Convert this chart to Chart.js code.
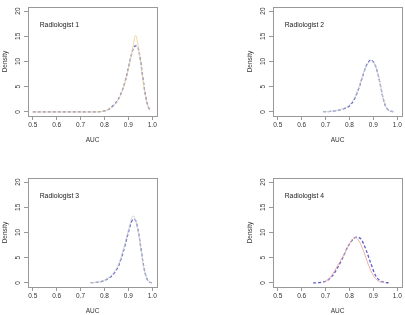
<!DOCTYPE html>
<html>
<head>
<meta charset="utf-8">
<script src="https://cdn.jsdelivr.net/npm/chart.js@4.4.1/dist/chart.umd.min.js"></script>
<style>
  html, body { margin: 0; padding: 0; background: #fff; overflow: hidden; }
  #wrap { position: relative; width: 405px; height: 315px; overflow: hidden; }
  .panel { position: absolute; width: 160px; height: 157px; }
</style>
</head>
<body>
<div id="wrap">
  <div class="panel" style="left:0;top:0"><canvas id="r1"></canvas></div>
  <div class="panel" style="left:245px;top:0"><canvas id="r2"></canvas></div>
  <div class="panel" style="left:0;top:171px"><canvas id="r3"></canvas></div>
  <div class="panel" style="left:245px;top:171px"><canvas id="r4"></canvas></div>
</div>
<script>
// etichette e assi
const panelTitles = ["Radiologist 1", "Radiologist 2", "Radiologist 3", "Radiologist 4"];
const xTicks = [0.5, 0.6, 0.7, 0.8, 0.9, 1.0];
const yTicks = [0, 5, 10, 15, 20];
const xTitle = "AUC";
const yTitle = "Density";

// Radiologist 1
const auc1 = [0.50, 0.55, 0.60, 0.65, 0.70, 0.75, 0.78, 0.80, 0.82, 0.84, 0.86, 0.88, 0.90, 0.91, 0.92, 0.93, 0.94, 0.95, 0.96, 0.97, 0.98, 0.99];
const solid1 = [0, 0, 0, 0, 0, 0, 0.05, 0.2, 0.6, 1.3, 2.6, 4.9, 8.4, 10.6, 13.0, 15.2, 13.4, 10.3, 6.8, 3.6, 1.4, 0.3];
const dashed1 = [0, 0, 0, 0, 0, 0, 0.05, 0.2, 0.6, 1.4, 2.7, 5.0, 8.6, 10.8, 12.5, 13.1, 12.8, 10.5, 7.0, 3.8, 1.5, 0.3];

// Radiologist 2
const auc2 = [0.69, 0.72, 0.75, 0.78, 0.80, 0.82, 0.84, 0.86, 0.87, 0.88, 0.89, 0.90, 0.91, 0.92, 0.93, 0.94, 0.95, 0.96, 0.97, 0.985];
const solid2 = [0.05, 0.1, 0.35, 0.8, 1.4, 2.7, 5.0, 7.9, 9.0, 9.8, 10.2, 9.9, 9.1, 7.5, 5.3, 3.0, 1.4, 0.5, 0.2, 0.05];
const dashed2 = [0.05, 0.1, 0.3, 0.7, 1.2, 2.5, 4.8, 7.8, 9.1, 9.9, 10.3, 9.9, 9.0, 7.4, 5.2, 2.9, 1.3, 0.5, 0.2, 0.05];

// Radiologist 3
const auc3 = [0.742, 0.76, 0.78, 0.80, 0.82, 0.84, 0.86, 0.88, 0.90, 0.91, 0.92, 0.93, 0.94, 0.95, 0.96, 0.97, 0.98, 0.99, 0.998];
const solid3 = [0.05, 0.1, 0.25, 0.55, 1.1, 2.1, 3.8, 6.8, 10.4, 12.2, 13.3, 12.5, 10.4, 7.5, 4.3, 1.9, 0.6, 0.15, 0.02];
const dashed3 = [0.05, 0.1, 0.2, 0.5, 1.0, 1.9, 3.5, 6.4, 10.0, 11.7, 12.6, 12.4, 10.6, 7.8, 4.5, 2.0, 0.6, 0.15, 0.02];

// Radiologist 4 (le due curve hanno supporti diversi)
const aucSolid4 = [0.69, 0.71, 0.73, 0.75, 0.77, 0.79, 0.81, 0.825, 0.84, 0.86, 0.88, 0.90, 0.92, 0.94];
const solid4 = [0.1, 0.6, 1.8, 3.4, 5.0, 6.8, 8.5, 9.0, 8.3, 6.2, 3.5, 1.5, 0.4, 0.1];
const aucDashed4 = [0.648, 0.67, 0.69, 0.71, 0.73, 0.75, 0.77, 0.79, 0.81, 0.83, 0.84, 0.85, 0.87, 0.89, 0.91, 0.93, 0.95, 0.964];
const dashed4 = [0.02, 0.05, 0.2, 0.6, 1.5, 3.0, 4.8, 6.9, 8.4, 9.1, 9.0, 8.6, 6.5, 3.8, 1.4, 0.4, 0.1, 0.02];

const solidColors = ["#e6d49c", "#cdd2ca", "#cdd2ca", "#eaa9a0"];
const dashColor = "#5e5ed4";
const FONT = "'Liberation Sans', Arial, sans-serif";

const toPoints = (xs, ys) => xs.map((x, i) => ({ x: x, y: ys[i] }));

// riquadro stile R + etichetta del pannello
const boxPlugin = {
  id: "rbox",
  afterDraw(chart) {
    const { ctx, chartArea: a, scales } = chart;
    ctx.save();
    ctx.strokeStyle = "#999";
    ctx.lineWidth = 1;
    ctx.strokeRect(Math.round(a.left) + 0.5, Math.round(a.top) + 0.5,
      Math.round(a.right - a.left), Math.round(a.bottom - a.top));
    ctx.fillStyle = "#222";
    ctx.font = "6.8px " + FONT;
    ctx.textBaseline = "middle";
    ctx.fillText(chart.options.plugins.rbox.label,
      scales.x.getPixelForValue(0.529), scales.y.getPixelForValue(17.2));
    ctx.restore();
  }
};

function makePanel(id, label, solidX, solidY, dashX, dashY, solidColor) {
  new Chart(document.getElementById(id), {
    type: "line",
    data: {
      datasets: [
        {
          data: toPoints(solidX, solidY),
          borderColor: solidColor,
          borderWidth: 0.9,
          pointRadius: 0,
          cubicInterpolationMode: "monotone",
        },
        {
          data: toPoints(dashX, dashY),
          borderColor: dashColor,
          borderWidth: 1.3,
          borderDash: [3, 2],
          pointRadius: 0,
          cubicInterpolationMode: "monotone",
        },
      ],
    },
    options: {
      responsive: false,
      animation: false,
      events: [],
      layout: { padding: { top: 7, right: 3, left: 0, bottom: 0 } },
      plugins: {
        legend: { display: false },
        tooltip: { enabled: false },
        rbox: { label: label },
      },
      scales: {
        x: {
          type: "linear",
          min: 0.48,
          max: 1.02,
          afterBuildTicks: s => { s.ticks = xTicks.map(v => ({ value: v })); },
          afterFit: s => { s.height = 41; },
          grid: { display: true, drawOnChartArea: false, drawTicks: true, tickLength: 4, color: "#999" },
          border: { display: false },
          ticks: {
            font: { family: FONT, size: 6.5 },
            color: "#333",
            padding: 1,
            maxRotation: 0,
            minRotation: 0,
            callback: v => v.toFixed(1),
          },
          title: {
            display: true,
            text: xTitle,
            font: { family: FONT, size: 6.5 },
            color: "#333",
            padding: { top: 0, bottom: 12.4 },
          },
        },
        y: {
          type: "linear",
          min: -0.8,
          max: 20.8,
          afterBuildTicks: s => { s.ticks = yTicks.map(v => ({ value: v })); },
          afterFit: s => { s.width = 28; },
          grid: { display: true, drawOnChartArea: false, drawTicks: true, tickLength: 4, color: "#999" },
          border: { display: false },
          ticks: {
            font: { family: FONT, size: 6.5 },
            color: "#333",
            padding: 2,
            minRotation: 90,
            maxRotation: 90,
            crossAlign: "center",
          },
          title: {
            display: true,
            text: yTitle,
            font: { family: FONT, size: 6.5 },
            color: "#333",
            padding: { top: 1.4, bottom: 0 },
          },
        },
      },
    },
    plugins: [boxPlugin],
  });
}

// imposta dimensioni canvas
["r1", "r2", "r3", "r4"].forEach(id => {
  const c = document.getElementById(id);
  c.width = 160;
  c.height = 157;
});

makePanel("r1", panelTitles[0], auc1, solid1, auc1, dashed1, solidColors[0]);
makePanel("r2", panelTitles[1], auc2, solid2, auc2, dashed2, solidColors[1]);
makePanel("r3", panelTitles[2], auc3, solid3, auc3, dashed3, solidColors[2]);
makePanel("r4", panelTitles[3], aucSolid4, solid4, aucDashed4, dashed4, solidColors[3]);
</script>
</body>
</html>
